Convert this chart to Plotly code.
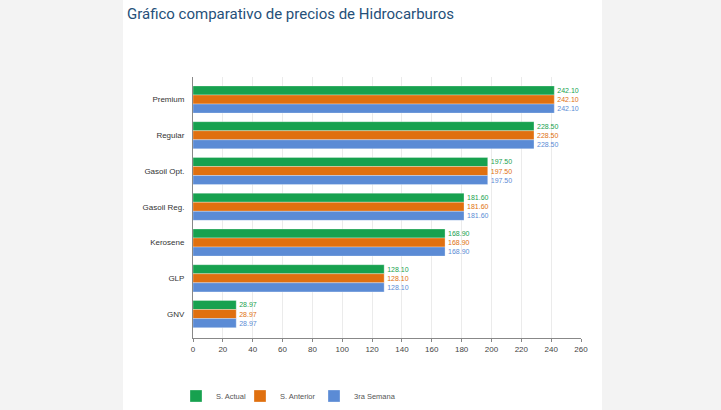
import plotly.graph_objects as go

# datos del grafico
combustibles = ["Premium", "Regular", "Gasoil Opt.", "Gasoil Reg.", "Kerosene", "GLP", "GNV"]
s_actual = [242.10, 228.50, 197.50, 181.60, 168.90, 128.10, 28.97]
s_anterior = [242.10, 228.50, 197.50, 181.60, 168.90, 128.10, 28.97]
tercera_semana = [242.10, 228.50, 197.50, 181.60, 168.90, 128.10, 28.97]
x_ticks = list(range(0, 261, 20))

series = [
    ("S. Actual", s_actual, "#17a14f"),
    ("S. Anterior", s_anterior, "#e0700f"),
    ("3ra Semana", tercera_semana, "#5b8bd5"),
]

# margenes en pixeles, para ubicar el panel blanco
W, H = 721, 410
ml, mr, mt, mb = 193, 140, 77, 72
pw = W - ml - mr
ph = H - mt - mb

fig = go.Figure()
legend_x = [176, 240, 314]  # una leyenda por serie, para separarlas como en el original
for i, (name, vals, color) in enumerate(series):
    fig.add_trace(go.Bar(
        y=combustibles, x=vals, name=name, orientation="h",
        marker=dict(color=color, line=dict(color="rgba(255,255,255,0.6)", width=0.5)),
        text=[f"{v:.2f}" for v in vals], textposition="outside",
        textfont=dict(size=7, color=color), cliponaxis=False,
        hovertemplate="%{y}: %{x:.2f}<extra>" + name + "</extra>",
        legend="legend" if i == 0 else f"legend{i + 1}",
    ))

# panel blanco sobre fondo gris
fig.add_shape(
    type="rect", xref="paper", yref="paper", layer="below",
    x0=(123 - ml) / pw, x1=(602 - ml) / pw,
    y0=-mb / ph - 0.05, y1=1 + mt / ph + 0.05,
    fillcolor="white", line=dict(width=0),
)

legends = {}
for i, lx in enumerate(legend_x):
    key = "legend" if i == 0 else f"legend{i + 1}"
    legends[key] = dict(
        orientation="h", xref="container", yref="container",
        x=lx / W, y=1 - 396 / H,
        xanchor="left", yanchor="middle",
        bgcolor="rgba(0,0,0,0)",
        font=dict(size=7.5, color="#555"), itemwidth=30,
    )

fig.update_layout(
    width=W, height=H,
    margin=dict(l=ml, r=mr, t=mt, b=mb),
    paper_bgcolor="#f3f3f3",
    plot_bgcolor="white",
    font=dict(family="Arial, Liberation Sans, sans-serif", size=8, color="#444"),
    title=dict(
        text="Gráfico comparativo de precios de Hidrocarburos",
        xref="container", yref="container", x=127 / W, y=1 - 14 / H,
        xanchor="left", yanchor="middle",
        font=dict(family="Roboto, sans-serif", size=15, color="#255079"),
    ),
    barmode="group", bargap=0.24, bargroupgap=0.0,
    showlegend=True,
    **legends,
)
fig.update_xaxes(
    range=[0, 260], tickvals=x_ticks, showgrid=True, gridcolor="#ebebeb",
    showline=True, linecolor="#888", linewidth=1, zeroline=False,
    ticks="outside", ticklen=3, tickcolor="#888", tickfont=dict(size=8, color="#444"),
)
fig.update_yaxes(
    range=[6.67, -0.63], showline=True, linecolor="#888", linewidth=1,
    ticks="", ticklabelstandoff=6, tickfont=dict(size=8, color="#333"),
)

fig.write_html(
    "out.html",
    config={"displayModeBar": False},
    post_script="document.body.style.margin='0';document.body.style.overflow='hidden';",
)
